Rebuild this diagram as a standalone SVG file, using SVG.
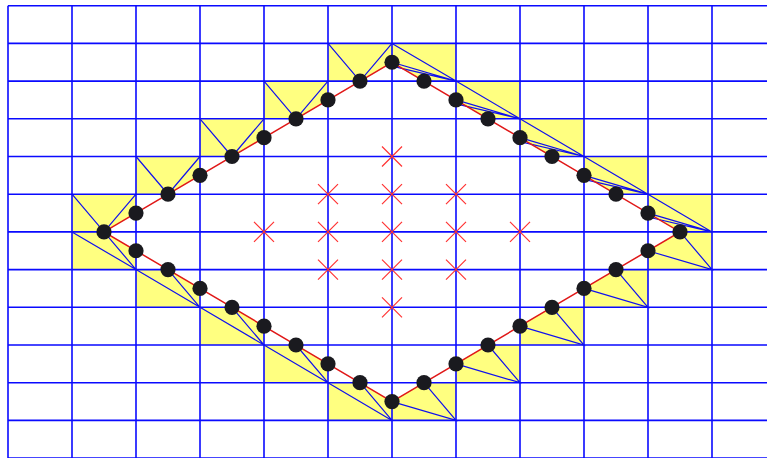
<svg xmlns="http://www.w3.org/2000/svg" width="767" height="458" viewBox="0 0 767 458">
<defs>
<style>
.cell{fill:#ffff80;stroke:none}
.grid{stroke:#0a0aff;stroke-width:1.6;fill:none}
.tri{stroke:#1010ee;stroke-width:1.2;fill:none}
.edge{stroke:#e01818;stroke-width:1.5;fill:none}
.mark{stroke:#ff3333;stroke-width:1.2;fill:none}
.dot{fill:#1a1a1f}
</style>
<path id="x" class="mark" d="M-10,-10L10,10M-10,10L10,-10"/>
</defs>
<rect width="767" height="458" fill="#ffffff"/>
<g id="cells">
<polygon class="cell" points="72,194.2 136,194.2 136,213.05 104,231.9 72,231.9"/>
<polygon class="cell" points="136,156.5 200,156.5 200,175.35 168,194.2 136,194.2"/>
<polygon class="cell" points="200,118.8 264,118.8 264,137.65 232,156.5 200,156.5"/>
<polygon class="cell" points="264,81.1 328,81.1 328,99.95 296,118.8 264,118.8"/>
<polygon class="cell" points="328,43.4 392,43.4 392,62.25 360,81.1 328,81.1"/>
<polygon class="cell" points="392,43.4 456,43.4 456,81.1 424,81.1 392,62.25"/>
<polygon class="cell" points="456,81.1 520,81.1 520,118.8 488,118.8 456,99.95"/>
<polygon class="cell" points="520,118.8 584,118.8 584,156.5 552,156.5 520,137.65"/>
<polygon class="cell" points="584,156.5 648,156.5 648,194.2 616,194.2 584,175.35"/>
<polygon class="cell" points="648,194.2 712,194.2 712,231.9 680,231.9 648,213.05"/>
<polygon class="cell" points="680,231.9 712,231.9 712,269.6 648,269.6 648,250.75"/>
<polygon class="cell" points="616,269.6 648,269.6 648,307.3 584,307.3 584,288.45"/>
<polygon class="cell" points="552,307.3 584,307.3 584,345 520,345 520,326.15"/>
<polygon class="cell" points="488,345 520,345 520,382.7 456,382.7 456,363.85"/>
<polygon class="cell" points="424,382.7 456,382.7 456,420.4 392,420.4 392,401.55"/>
<polygon class="cell" points="72,231.9 104,231.9 136,250.75 136,269.6 72,269.6"/>
<polygon class="cell" points="136,269.6 168,269.6 200,288.45 200,307.3 136,307.3"/>
<polygon class="cell" points="200,307.3 232,307.3 264,326.15 264,345 200,345"/>
<polygon class="cell" points="264,345 296,345 328,363.85 328,382.7 264,382.7"/>
<polygon class="cell" points="328,382.7 360,382.7 392,401.55 392,420.4 328,420.4"/>
</g>
<g id="grid" class="grid">
<path d="M8,5.7V458M72,5.7V458M136,5.7V458M200,5.7V458M264,5.7V458M328,5.7V458M392,5.7V458M456,5.7V458M520,5.7V458M584,5.7V458M648,5.7V458M712,5.7V458"/>
<path d="M8,5.7H767M8,43.4H767M8,81.1H767M8,118.8H767M8,156.5H767M8,194.2H767M8,231.9H767M8,269.6H767M8,307.3H767M8,345H767M8,382.7H767M8,420.4H767M8,458H767"/>
</g>
<g id="connectors">
<g class="tri">
<path d="M72,194.2L104,231.9L136,194.2M136,156.5L168,194.2L200,156.5M200,118.8L232,156.5L264,118.8M264,81.1L296,118.8L328,81.1M328,43.4L360,81.1L392,43.4"/>
<path d="M392,43.4L456,81.1M392,62.25L456,81.1M392,66.2L456,81.1"/>
<path d="M456,81.1L520,118.8M456,99.95L520,118.8M456,103.9L520,118.8"/>
<path d="M520,118.8L584,156.5M520,137.65L584,156.5M520,141.6L584,156.5"/>
<path d="M584,156.5L648,194.2M584,175.35L648,194.2M584,179.3L648,194.2"/>
<path d="M648,194.2L712,231.9M648,213.05L712,231.9M648,217L712,231.9"/>
<path d="M648,250.75L712,269.6L680,231.9M584,288.45L648,307.3L616,269.6M520,326.15L584,345L552,307.3M456,363.85L520,382.7L488,345M392,401.55L456,420.4L424,382.7"/>
<path d="M72,231.9L136,269.6L104,231.9M136,269.6L200,307.3L168,269.6M200,307.3L264,345L232,307.3M264,345L328,382.7L296,345M328,382.7L392,420.4L360,382.7"/>
</g>
<polygon id="diamond" class="edge" points="104,231.9 392,62.25 680,231.9 392,401.55"/>
</g>
<g id="interior-marks">
<use href="#x" x="392" y="156.5"/>
<use href="#x" x="328" y="194.2"/><use href="#x" x="392" y="194.2"/><use href="#x" x="456" y="194.2"/>
<use href="#x" x="264" y="231.9"/><use href="#x" x="328" y="231.9"/><use href="#x" x="392" y="231.9"/><use href="#x" x="456" y="231.9"/><use href="#x" x="520" y="231.9"/>
<use href="#x" x="328" y="269.6"/><use href="#x" x="392" y="269.6"/><use href="#x" x="456" y="269.6"/>
<use href="#x" x="392" y="307.3"/>
</g>
<g id="boundary-points" class="dot">
<circle cx="104" cy="231.9" r="7.6"/><circle cx="136" cy="213.05" r="7.6"/><circle cx="168" cy="194.2" r="7.6"/><circle cx="200" cy="175.35" r="7.6"/><circle cx="232" cy="156.5" r="7.6"/><circle cx="264" cy="137.65" r="7.6"/><circle cx="296" cy="118.8" r="7.6"/><circle cx="328" cy="99.95" r="7.6"/><circle cx="360" cy="81.1" r="7.6"/><circle cx="392" cy="62.25" r="7.6"/>
<circle cx="424" cy="81.1" r="7.6"/><circle cx="456" cy="99.95" r="7.6"/><circle cx="488" cy="118.8" r="7.6"/><circle cx="520" cy="137.65" r="7.6"/><circle cx="552" cy="156.5" r="7.6"/><circle cx="584" cy="175.35" r="7.6"/><circle cx="616" cy="194.2" r="7.6"/><circle cx="648" cy="213.05" r="7.6"/><circle cx="680" cy="231.9" r="7.6"/>
<circle cx="648" cy="250.75" r="7.6"/><circle cx="616" cy="269.6" r="7.6"/><circle cx="584" cy="288.45" r="7.6"/><circle cx="552" cy="307.3" r="7.6"/><circle cx="520" cy="326.15" r="7.6"/><circle cx="488" cy="345" r="7.6"/><circle cx="456" cy="363.85" r="7.6"/><circle cx="424" cy="382.7" r="7.6"/><circle cx="392" cy="401.55" r="7.6"/>
<circle cx="360" cy="382.7" r="7.6"/><circle cx="328" cy="363.85" r="7.6"/><circle cx="296" cy="345" r="7.6"/><circle cx="264" cy="326.15" r="7.6"/><circle cx="232" cy="307.3" r="7.6"/><circle cx="200" cy="288.45" r="7.6"/><circle cx="168" cy="269.6" r="7.6"/><circle cx="136" cy="250.75" r="7.6"/>
</g>
</svg>
